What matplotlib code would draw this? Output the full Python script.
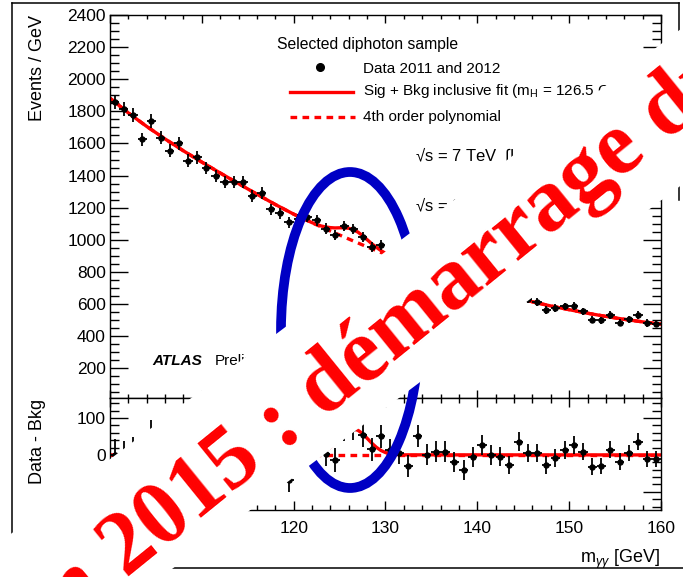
import numpy as np
import matplotlib
matplotlib.use("Agg")
import matplotlib.pyplot as plt
from matplotlib.patches import Rectangle, Ellipse
from matplotlib.lines import Line2D
from matplotlib.ticker import MultipleLocator, FixedLocator
from matplotlib.transforms import Affine2D, IdentityTransform

plt.rcParams['font.family'] = ['Liberation Sans', 'DejaVu Sans']
plt.rcParams['mathtext.fontset'] = 'custom'
plt.rcParams['mathtext.rm'] = 'Liberation Sans'
plt.rcParams['mathtext.it'] = 'Liberation Sans:italic'
plt.rcParams['mathtext.bf'] = 'Liberation Sans:bold'
plt.rcParams['axes.linewidth'] = 1.0

# ---------------- data ----------------
bin_centres = np.arange(100.5, 160.0, 1.0)

events = [1860, 1813, 1776, 1625, 1740, 1637, 1556, 1600, 1493, 1514,
          1446, 1398, 1360, 1362, 1360, 1274, 1292, 1191, 1166, 1108,
          1130, 1143, 1122, 1070, 1030, 1087, 1066, 1017, 958, 968,
          912, 881, 825, 885, 813, 802, 783, 737, 696, 715,
          730, 687, 666, 629, 677, 632, 610, 564, 575, 585,
          589, 554, 502, 498, 533, 485, 506, 533, 482, 477]

residuals = [0, -5, 6, -102, 54, -10, -53, 28, -43, 14,
             -20, -36, -41, -6, 27, -24, 26, -43, -37, -67,
             -16, 24, 29, 2, -13, 70, 73, 54, 15, 50,
             14, 5, -30, 51, 0, 9, 9, -18, -41, -5,
             27, 0, -5, -27, 36, 5, 5, -27, -9, 14,
             27, 9, -32, -30, 14, -18, 5, 36, -12, -12]

bkg_x = [100, 102, 104, 106, 108, 110, 112, 114, 116, 118, 120, 122, 124, 126, 128,
         130, 132, 134, 136, 138, 140, 142, 144, 146, 148, 150, 152, 154, 156, 158, 160]
bkg_y = [1882, 1790, 1706, 1628, 1554, 1484, 1416, 1350, 1284, 1220, 1160, 1106, 1055, 1005, 956,
         910, 866, 824, 784, 746, 711, 678, 645, 614, 588, 565, 543, 523, 505, 489, 475]

sig_x = [121, 121.5, 122, 122.5, 123, 123.5, 124, 124.5, 125, 125.5, 126, 126.5,
         127, 127.5, 128, 128.5, 129, 129.5, 130, 130.5, 131, 131.5, 132]
sig_total = [1133, 1120, 1107, 1096, 1086, 1080, 1076, 1074, 1075, 1075, 1072, 1063,
             1048, 1026, 1001, 976, 954, 933, 916, 902, 889, 877, 866]
sig_only = [0.2, 0.5, 1.3, 3.1, 6.4, 12.1, 20.7, 32.0, 45.0, 57.6, 66.7, 70.0,
            66.7, 57.6, 45.0, 32.0, 20.7, 12.1, 6.4, 3.1, 1.3, 0.5, 0.2]

top_yticks = [200, 400, 600, 800, 1000, 1200, 1400, 1600, 1800, 2000, 2200, 2400]
bot_yticks = [-100, 0, 100]
xticks = [100, 110, 120, 130, 140, 150, 160]

# ---------------- figure ----------------
W, H = 683, 577
fig = plt.figure(figsize=(W / 100, H / 100), dpi=100)


def F(x, y):
    return x / W, 1 - y / H


ax1 = fig.add_axes([110 / W, 1 - 398 / H, 551 / W, 383 / H])
ax2 = fig.add_axes([110 / W, 1 - 510 / H, 551 / W, 112 / H])

RED = '#ff0000'
err = np.sqrt(np.array(events, dtype=float))

# top panel
fit_x = bkg_x[:11] + sig_x + bkg_x[17:]
fit_y = bkg_y[:11] + sig_total + bkg_y[17:]
ax1.plot(bkg_x, bkg_y, color=RED, lw=2.4, ls=(0, (2, 1.6)), zorder=2)
ax1.plot(fit_x, fit_y, color=RED, lw=2.4, zorder=2.5)
ax1.errorbar(bin_centres, events, yerr=err, xerr=0.5, fmt='o', color='black',
             ms=3.6, elinewidth=1.3, capsize=0, zorder=3)
ax1.set_xlim(100, 160)
ax1.set_ylim(15, 2400)

# bottom panel
ax2.plot([100, 160], [0, 0], color=RED, lw=2.4, ls=(0, (2, 1.6)), zorder=2)
ax2.plot([100] + sig_x + [160], [0] + sig_only + [0], color=RED, lw=2.4, zorder=2.5)
ax2.errorbar(bin_centres, residuals, yerr=err, xerr=0.5, fmt='o', color='black',
             ms=3.6, elinewidth=1.3, capsize=0, zorder=3)
ax2.set_xlim(100, 160)
ax2.set_ylim(-149, 154)

PT = 1 / 1.389
for ax in (ax1, ax2):
    ax.tick_params(which='both', direction='in', top=True, right=True, width=1.0,
                   labelsize=12.5, colors='black')
    ax.xaxis.set_major_locator(FixedLocator(xticks))
    ax.xaxis.set_minor_locator(MultipleLocator(2))
    ax.tick_params(axis='y', which='major', length=18 * PT, pad=3)
    ax.tick_params(axis='y', which='minor', length=9 * PT)

ax1.yaxis.set_major_locator(FixedLocator(top_yticks))
ax1.yaxis.set_minor_locator(MultipleLocator(50))
ax1.tick_params(axis='x', which='major', length=8 * PT, labelbottom=False)
ax1.tick_params(axis='x', which='minor', length=4 * PT)

ax2.yaxis.set_major_locator(FixedLocator(bot_yticks))
ax2.yaxis.set_minor_locator(MultipleLocator(20))
ax2.set_yticklabels(['-100', '0', '100'])
ax2.tick_params(axis='x', which='major', length=9 * PT, pad=8)
ax2.tick_params(axis='x', which='minor', length=5 * PT)

# axis titles
fig.text(*F(37, 15), 'Events / GeV', rotation=90, ha='center', va='top', fontsize=13)
fig.text(*F(37, 441), 'Data - Bkg', rotation=90, ha='center', va='center', fontsize=13)
fig.text(*F(660, 563), r'm$_{\gamma\gamma}$ [GeV]', ha='right', va='baseline', fontsize=13)

# legend (ROOT style, manual)
fig.text(*F(277, 44), 'Selected diphoton sample', ha='left', va='center', fontsize=11.3)
fig.add_artist(Line2D([320 / W], [1 - 67 / H], marker='o', ms=5.5, color='black',
                      transform=fig.transFigure))
fig.text(*F(363, 69), 'Data 2011 and 2012', ha='left', va='center', fontsize=11)
fig.add_artist(Line2D([290 / W, 353 / W], [1 - 92 / H] * 2, color=RED, lw=2.4,
                      transform=fig.transFigure))
fig.text(*F(363, 91), r'Sig + Bkg inclusive fit (m$_\mathrm{H}$ = 126.5 GeV)', ha='left',
         va='center', fontsize=11)
fig.add_artist(Line2D([290 / W, 355 / W], [1 - 117 / H] * 2, color=RED, lw=2.4,
                      ls=(0, (2, 1.6)), transform=fig.transFigure))
fig.text(*F(363, 117), '4th order polynomial', ha='left', va='center', fontsize=11)

fig.text(*F(415, 156), '\u221as = 7 TeV  \u222bLdt = 4.8 fb$^{-1}$',
         ha='left', va='center', fontsize=12)
fig.text(*F(415, 206), '\u221as = 8 TeV, \u222bLdt = 20.7 fb$^{-1}$',
         ha='left', va='center', fontsize=12)
fig.text(*F(152, 361), 'ATLAS', ha='left', va='center', fontsize=11,
         fontweight='bold', fontstyle='italic')
fig.text(*F(215, 361), 'Preliminary', ha='left', va='center', fontsize=11)

# outer frame (partly visible edges of the pasted picture)
for xs, ys in (([12, 679], [3, 3]), ([12, 12], [3, 568]), ([12, 683], [568, 568]),
               ([679, 679], [3, 200])):
    fig.add_artist(Line2D(xs, [H - v for v in ys], color='black', lw=1.1,
                          transform=IdentityTransform(), zorder=7))

# blue ellipse
fig.add_artist(Ellipse((350, H - 330), 138, 316, fill=False, ec='#0000c4', lw=7,
                       transform=IdentityTransform(), zorder=8))

# banner: white band + red rotated text
BAND_THETA = 37.0
TEXT_THETA = 39.0
Bc = np.array([294.0, H - 442.0])
fig.add_artist(Rectangle((-700, -28), 1700, 125, fc='white', ec='none',
                         transform=Affine2D().rotate_deg(BAND_THETA).translate(*Bc),
                         zorder=9))

BANNER = 'Juin 2015 : démarrage du Run 2'
banner_kw = dict(fontsize=64.5, fontweight='bold', family='Liberation Serif', color=RED)
renderer = fig.canvas.get_renderer()
tmp = fig.text(0, 0, 'Juin 2015 :', **banner_kw)
w1 = tmp.get_window_extent(renderer).width
tmp.set_text(':')
wc = tmp.get_window_extent(renderer).width
tmp.remove()
bdir = np.array([np.cos(np.radians(TEXT_THETA)), np.sin(np.radians(TEXT_THETA))])
start = Bc - (w1 - wc / 2) * bdir
fig.text(start[0] / W, start[1] / H, BANNER, rotation=TEXT_THETA, rotation_mode='anchor',
         ha='left', va='baseline', zorder=10, **banner_kw)

fig.savefig('out.png', dpi=100)
